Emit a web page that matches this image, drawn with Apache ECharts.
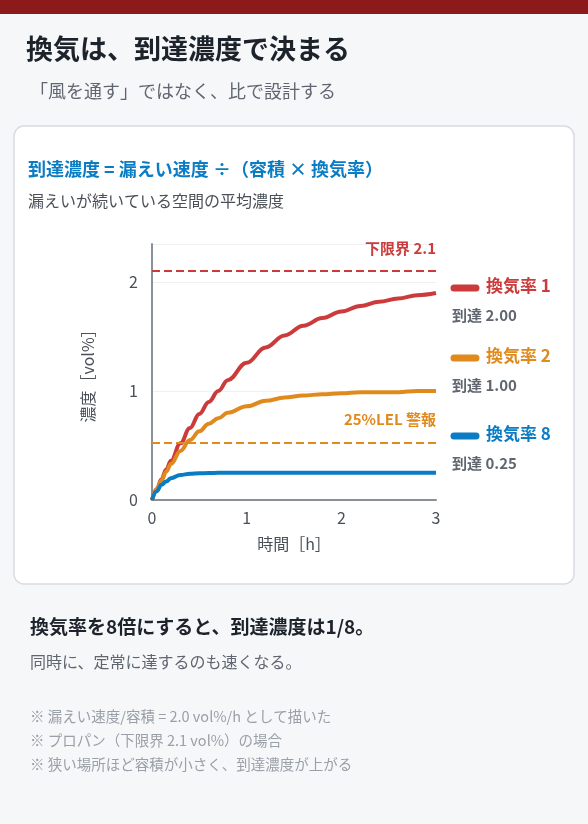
<!DOCTYPE html>
<html><head><meta charset="utf-8">
<script src="https://cdn.jsdelivr.net/npm/echarts@6/dist/echarts.min.js"></script>
<style>html,body{margin:0;padding:0;background:#f6f7f9;}#c{width:588px;height:824px;}</style>
</head><body><div id="c"></div>
<script>
const times=[0,0.05,0.1,0.15,0.2,0.3,0.4,0.5,0.6,0.7,0.8,1.0,1.2,1.4,1.6,1.8,2.0,2.2,2.4,2.6,2.8,3.0];
const ach1=[0,0.10,0.19,0.28,0.36,0.52,0.66,0.79,0.90,1.00,1.10,1.26,1.40,1.51,1.60,1.67,1.73,1.78,1.82,1.85,1.88,1.90];
const ach2=[0,0.10,0.18,0.26,0.33,0.45,0.55,0.63,0.70,0.75,0.80,0.86,0.91,0.94,0.96,0.97,0.98,0.99,0.99,0.99,1.00,1.00];
const ach8=[0,0.08,0.14,0.17,0.20,0.23,0.24,0.245,0.248,0.249,0.25,0.25,0.25,0.25,0.25,0.25,0.25,0.25,0.25,0.25,0.25,0.25];
const lel=2.1, alarm=0.525;
const names=['換気率 1','換気率 2','換気率 8'];
const finals=['到達 2.00','到達 1.00','到達 0.25'];
const colors=['#cc3b3b','#e08a1e','#0a7cc4'];
const F='"Noto Sans CJK JP","Noto Sans",sans-serif';
const ch=echarts.init(document.getElementById('c'));
const mk=a=>times.map((t,i)=>[t,a[i]]);
const series=[ach1,ach2,ach8].map((a,i)=>({type:'line',data:mk(a),smooth:0.4,smoothMonotone:'x',symbol:'none',lineStyle:{width:4,color:colors[i]},z:3}));
series.push({type:'line',data:[],markLine:{symbol:'none',silent:true,label:{show:false},data:[
 {yAxis:lel,lineStyle:{color:'#cc3b3b',type:'dashed',width:2}},
 {yAxis:alarm,lineStyle:{color:'#e08a1e',type:'dashed',width:2}}]}});
const legY=[288,358,436];
const g=[
 {type:'rect',shape:{x:0,y:0,width:588,height:14},style:{fill:'#8c1a1a'}},
 {type:'text',left:26,top:35,style:{text:'換気は、到達濃度で決まる',font:'bold 27px '+F,fill:'#1d232b'}},
 {type:'text',left:30,top:82,style:{text:'「風を通す」ではなく、比で設計する',font:'18px '+F,fill:'#5f6670'}},
 {type:'rect',shape:{x:14,y:126,width:560,height:458,r:10},style:{fill:'#fff',stroke:'#d8dce2',lineWidth:1.5},z:-1},
 {type:'text',left:28,top:160,style:{text:'到達濃度 = 漏えい速度 ÷（容積 × 換気率）',font:'bold 18px '+F,fill:'#0a7cc4'}},
 {type:'text',left:28,top:193,style:{text:'漏えいが続いている空間の平均濃度',font:'16px '+F,fill:'#4a5058'}},
 {type:'text',right:152,top:241,z:20,style:{text:'下限界 2.1',font:'bold 15px '+F,fill:'#cc3b3b'}},
 {type:'text',right:152,top:412,z:20,style:{text:'25%LEL 警報',font:'bold 15px '+F,fill:'#e08a1e'}},
 {type:'text',left:30,top:617,style:{text:'換気率を8倍にすると、到達濃度は1/8。',font:'bold 19px '+F,fill:'#1d232b'}},
 {type:'text',left:30,top:654,style:{text:'同時に、定常に達するのも速くなる。',font:'16px '+F,fill:'#5f6670'}},
 {type:'text',left:30,top:709,style:{text:'※ 漏えい速度/容積 = 2.0 vol%/h として描いた',font:'14.5px '+F,fill:'#9aa0a8'}},
 {type:'text',left:30,top:733,style:{text:'※ プロパン（下限界 2.1 vol%）の場合',font:'14.5px '+F,fill:'#9aa0a8'}},
 {type:'text',left:30,top:757,style:{text:'※ 狭い場所ほど容積が小さく、到達濃度が上がる',font:'14.5px '+F,fill:'#9aa0a8'}}
];
names.forEach((n,i)=>{
 g.push({type:'line',shape:{x1:454,y1:legY[i],x2:476,y2:legY[i]},style:{stroke:colors[i],lineWidth:7,lineCap:'round'}});
 g.push({type:'text',left:486,top:legY[i]-11,style:{text:n,font:'bold 17px '+F,fill:colors[i]}});
 g.push({type:'text',left:452,top:legY[i]+20,style:{text:finals[i],font:'bold 15px '+F,fill:'#5f6670'}});
});
ch.setOption({
 animation:false,
 grid:{left:152,top:244,width:284,height:256,containLabel:false},
 xAxis:{type:'value',min:0,max:3,interval:1,name:'時間［h］',nameLocation:'middle',nameGap:36,
  nameTextStyle:{fontFamily:F,fontSize:16,color:'#4a5058'},
  axisLine:{show:true,lineStyle:{color:'#8a9098',width:2}},axisTick:{show:false},splitLine:{show:false},
  axisLabel:{fontSize:16,color:'#4a5058',fontFamily:F,margin:10}},
 yAxis:{type:'value',min:0,max:2.35,interval:1,name:'濃度［vol%］',nameLocation:'middle',nameGap:56,
  nameTextStyle:{fontFamily:F,fontSize:16,color:'#4a5058'},
  axisLine:{show:true,lineStyle:{color:'#8a9098',width:2}},axisTick:{show:false},
  splitLine:{show:true,lineStyle:{color:'#eef0f3'}},
  axisLabel:{fontSize:16,color:'#4a5058',fontFamily:F,margin:14,showMaxLabel:false}},
 series:series,
 graphic:g
});
</script></body></html>
